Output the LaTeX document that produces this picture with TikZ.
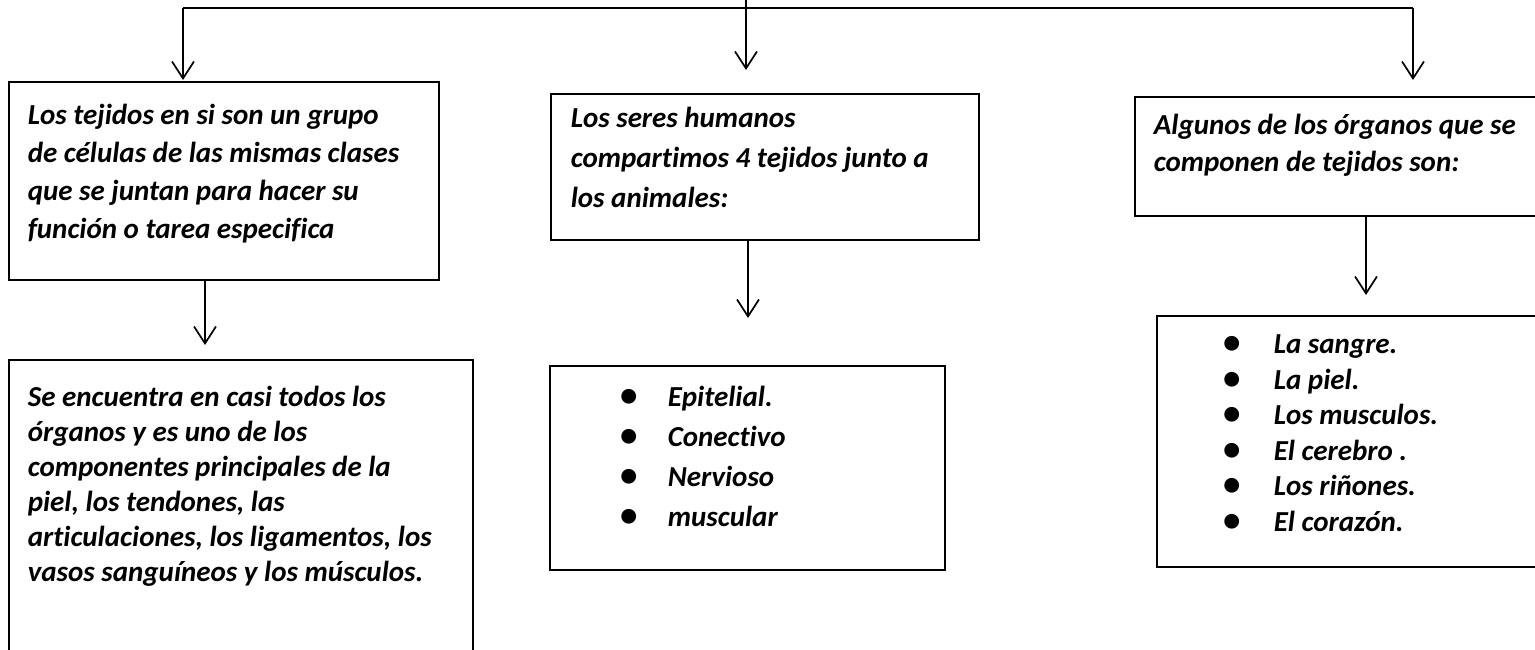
\documentclass[tikz,border=0pt]{standalone}
\usepackage{graphicx}
\usepackage{fontspec}
\setmainfont{Carlito}[Ligatures=NoCommon]
\usetikzlibrary{arrows.meta}

% Text im Kasten: Breite, Hoehe, Einzug links, Abstand oben, Inhalt
\newcommand{\boxtext}[5]{\parbox[c][#2][t]{#1}{\raggedright\leftskip=#3\vspace*{#4}#5}}
% Aufzaehlungspunkt mit fester Breite
\newcommand{\tjbullet}[1]{\makebox[#1][l]{\scalebox{1.2}{\textbullet}}}

\begin{document}
\begin{tikzpicture}[x=1pt, y=-1pt,
      tjbox/.style={draw, line width=1.6pt, anchor=north west, inner sep=0pt},
      tjfont/.style={font=\fontsize{29}{#1}\selectfont\bfseries\itshape},
      arr/.style={-{Straight Barb[length=17pt, width=22pt]}, line width=1.7pt}]
  % Bildbereich
  \clip (0,0) rectangle (1535,650);
  % Kaesten oben
  \node[tjbox, tjfont=38pt] (tejidos) at (8,81)
    {\boxtext{430pt}{198pt}{19pt}{22pt}{Los tejidos en si son un grupo\\de células de las mismas clases\\que se juntan para hacer su\\función o tarea especifica}};
  \node[tjbox, tjfont=40pt] (humanos) at (550,93)
    {\boxtext{428pt}{146pt}{20pt}{13pt}{Los seres humanos\\compartimos 4 tejidos junto a\\los animales:}};
  \node[tjbox, tjfont=37pt] (organos) at (1134,96)
    {\boxtext{426pt}{119pt}{19pt}{17pt}{Algunos de los órganos que se\\componen de tejidos son:}};
  % Kaesten unten
  \node[tjbox, tjfont=35pt] (piel) at (8,359)
    {\boxtext{464pt}{330pt}{19pt}{26pt}{Se encuentra en casi todos los\\órganos y es uno de los\\componentes principales de la\\piel, los tendones, las\\articulaciones, los ligamentos, los\\vasos sanguíneos y los músculos.}};
  \node[tjbox, tjfont=40pt] (tipos) at (549,365)
    {\boxtext{395pt}{204pt}{70pt}{20pt}{\tjbullet{48pt}Epitelial.\\\tjbullet{48pt}Conectivo\\\tjbullet{48pt}Nervioso\\\tjbullet{48pt}muscular}};
  \node[tjbox, tjfont=35.5pt] (lista) at (1156,315)
    {\boxtext{404pt}{251pt}{66pt}{19pt}{\tjbullet{51pt}La sangre.\\\tjbullet{51pt}La piel.\\\tjbullet{51pt}Los musculos.\\\tjbullet{51pt}El cerebro .\\\tjbullet{51pt}Los riñones.\\\tjbullet{51pt}El corazón.}};
  % Verzweigung oben
  \coordinate (wurzel) at (746,0);
  \coordinate (astL) at (183,8);
  \coordinate (astR) at (1413,8);
  \draw[line width=1.6pt] (astL) -- (astR);
  \draw[arr, shorten >=23pt] (wurzel) -- (wurzel |- humanos.north);
  \draw[arr, shorten >=1pt] (astL) -- (astL |- tejidos.north);
  \draw[arr, shorten >=16pt] (astR) -- (astR |- organos.north);
  % Pfeile nach unten
  \draw[arr, shorten >=14pt] ([xshift=197pt]tejidos.south west) -- ([xshift=197pt]tejidos.south west |- piel.north);
  \draw[arr, shorten >=47pt] ([xshift=198pt]humanos.south west) -- ([xshift=198pt]humanos.south west |- tipos.north);
  \draw[arr, shorten >=20pt] ([xshift=232pt]organos.south west) -- ([xshift=232pt]organos.south west |- lista.north);
\end{tikzpicture}
\end{document}
